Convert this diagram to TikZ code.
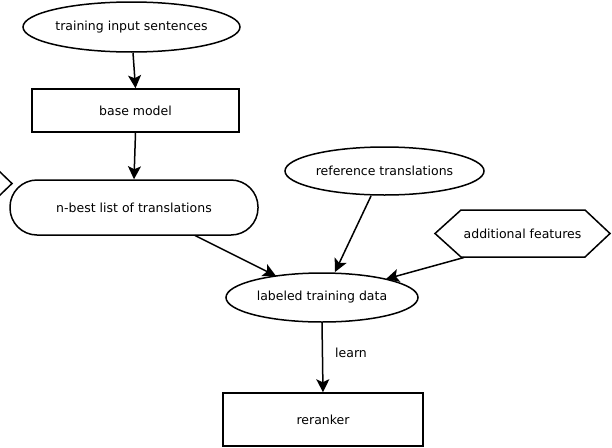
\documentclass[tikz,border=0pt]{standalone}
\usepackage{fontspec}
\setmainfont{DejaVu Sans}
\usetikzlibrary{shapes.geometric,arrows.meta}
\begin{document}
\begin{tikzpicture}[x=1pt,y=-1pt,
  every node/.style={font=\fontsize{12.5}{15}\selectfont, line width=1.5pt, draw, inner sep=0pt},
  ell/.style={ellipse},
  box/.style={rectangle},
  conn/.style={line width=1.5pt, -{Stealth[length=13pt,width=13pt,inset=3pt]}}
]
\useasboundingbox (0,0) rectangle (612,447);
\node[ell, minimum width=217pt, minimum height=50pt] (tis) at (131.5,27) {training input sentences};
\node[box, minimum width=207pt, minimum height=43pt] (bm) at (135.5,110.5) {base model};
\node[rectangle, rounded corners=27pt, minimum width=248pt, minimum height=55pt] (nb) at (134,207.5) {n-best list of translations};
\node[ell, minimum width=199pt, minimum height=48pt] (rt) at (384.5,171) {reference translations};
\node[ell, minimum width=192pt, minimum height=49pt] (ltd) at (322,297.5) {labeled training data};
\node[box, minimum width=200pt, minimum height=53pt] (rr) at (323,419.5) {reranker};
\node[draw=none] (af) at (522.5,233.5) {additional features};
\draw[line width=1.5pt] (435,233.5) -- (461,210) -- (585,210) -- (610,233.5) -- (585,257) -- (461,257) -- cycle;
\coordinate (afbot) at (464,257.5);
\draw[line width=1.5pt] (-1,171) -- (12,183.5) -- (-1,196);
\draw[conn] (tis.south) ++(1.5,0) -- (bm.north);
\draw[conn] (bm.south) -- (nb.north);
\draw[conn] (195,235.5) -- (276,276);
\draw[conn] (371,196) -- (335,272);
\draw[conn] (afbot) -- (386,279);
\draw[conn] (ltd.south) -- (rr.north) node[pos=0.44, right=12pt, draw=none] {learn};
\end{tikzpicture}
\end{document}
